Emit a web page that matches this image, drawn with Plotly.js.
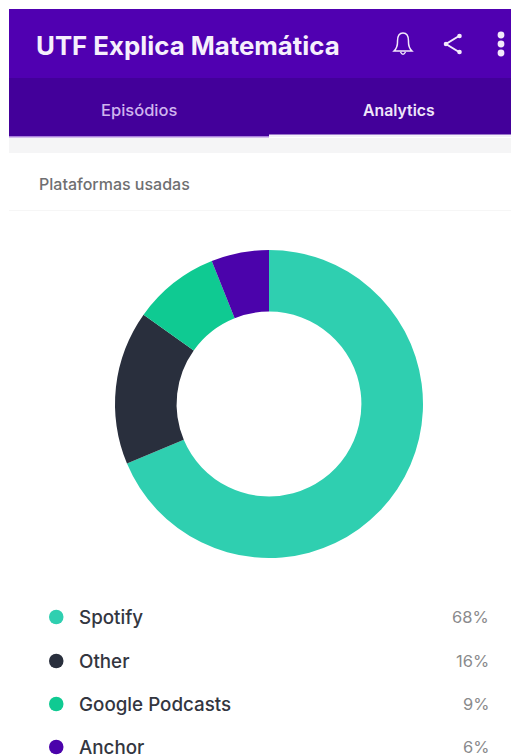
<!DOCTYPE html>
<html><head><meta charset="utf-8">
<script src="https://cdn.plot.ly/plotly-3.0.1.min.js"></script>
<style>html,body{margin:0;padding:0;background:#fff;overflow:hidden}</style>
</head><body><div id="c" style="width:511px;height:756px"></div>
<script>
const categories = ["Spotify","Other","Google Podcasts","Anchor"];
const values = [68,16,9,6];
const valueLabels = ["68%","16%","9%","6%"];
const colors = ["#2fcfb0","#292f3d","#0fca92","#4b03ab"];
const rowY = [617,661,704,747];
const W=511,H=756;
const FONT="Inter, 'Noto Sans', sans-serif";
const rect=(x0,y0,x1,y1,c)=>({type:'rect',xref:'x',yref:'y',x0,y0,x1,y1,fillcolor:c,line:{width:0},layer:'below'});
const shapes=[
 rect(9,9,511,78,'#5000b1'),
 rect(9,78,511,137,'#43009a'),
 rect(9,136,269,137.5,'#a97fdc'),
 rect(269,134.5,511,137,'#f4f0fa'),
 rect(9,138,511,153,'#f5f5f6'),
 rect(9,210,511,211,'#f6f6f6'),
 // bell
 {type:'path',xref:'x',yref:'y',path:'M394,51 C398,47 397.5,44 397.5,41 C397.5,36 399.5,33 403,33 C406.5,33 408.5,36 408.5,41 C408.5,44 408,47 412,51 Z M400.5,52 Q403,56.5 405.5,52',line:{color:'#f3e9fb',width:1.5},fillcolor:'rgba(0,0,0,0)'},
 // share
 {type:'path',xref:'x',yref:'y',path:'M459,36 L446,44 L459,52',line:{color:'#f3e9fb',width:2},fillcolor:'rgba(0,0,0,0)'},
 ...[[459.5,36,2.3],[446,44,2.3],[459.5,52,2.3],[501,35,3.4],[501,44,3.4],[501,53,3.4]].map(([x,y,r])=>({type:'circle',xref:'x',yref:'y',x0:x-r,x1:x+r,y0:y-r,y1:y+r,fillcolor:'#f3e9fb',line:{width:0}})),
 ...categories.map((c,i)=>({type:'circle',xref:'x',yref:'y',x0:49,x1:63.5,y0:rowY[i]-7.3,y1:rowY[i]+7.3,fillcolor:colors[i],line:{width:0}}))
];
const ann=(x,y,text,size,color,anchor,weight)=>({xref:'x',yref:'y',x,y,text,showarrow:false,xanchor:anchor||'left',yanchor:'middle',font:{family:FONT,size,color,weight:weight||400}});
const annotations=[
 ann(34,45,'UTF Explica Matemática',25.8,'#f6effc','left',700),
 ann(139,110,'Episódios',16.5,'#cfb4ee','center',500),
 ann(399,110,'Analytics',15.8,'#efe6f9','center',600),
 ann(37,184,'Plataformas usadas',16,'#6f6f71','left',500),
 ...categories.map((c,i)=>ann(77,rowY[i],c,18.8,'#33363f','left',500)),
 ...valueLabels.map((t,i)=>ann(491,rowY[i],t,16.5,'#8a8a8c','right',400))
];
Plotly.newPlot('c',[{
 type:'pie',labels:categories,values:values,hole:0.6,sort:false,direction:'clockwise',rotation:0,
 marker:{colors:colors,line:{width:0}},textinfo:'none',hoverinfo:'label+percent',
 domain:{x:[115/W,423/W],y:[1-558/H,1-250/H]},showlegend:false
}],{
 width:W,height:H,margin:{l:0,r:0,t:0,b:0},paper_bgcolor:'#fff',plot_bgcolor:'rgba(0,0,0,0)',showlegend:false,
 xaxis:{range:[0,W],visible:false,fixedrange:true},
 yaxis:{range:[H,0],visible:false,fixedrange:true},
 shapes,annotations
},{displayModeBar:false,staticPlot:true});
</script></body></html>
